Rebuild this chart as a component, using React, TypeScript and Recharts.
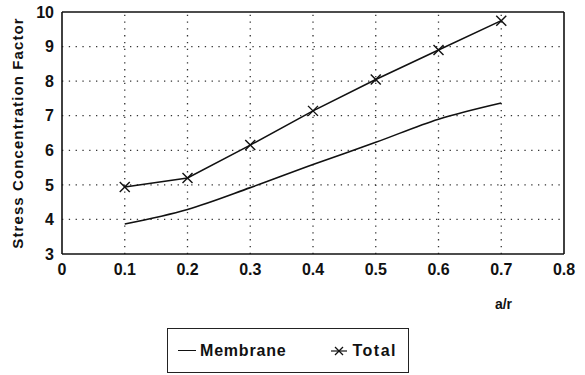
import React from "react";
import { LineChart, Line, XAxis, YAxis, ReferenceLine } from "recharts";

const ratios = [0.1, 0.2, 0.3, 0.4, 0.5, 0.6, 0.7];
const membrane = [3.87, 4.29, 4.92, 5.59, 6.23, 6.9, 7.37];
const total = [4.94, 5.2, 6.15, 7.14, 8.05, 8.9, 9.75];
const xTicks = [0, 0.1, 0.2, 0.3, 0.4, 0.5, 0.6, 0.7, 0.8];
const yTicks = [3, 4, 5, 6, 7, 8, 9, 10];
const xGrid = [0.1, 0.2, 0.3, 0.4, 0.5, 0.6, 0.7];
const yGrid = [4, 5, 6, 7, 8, 9];
const seriesNames = ["Membrane", "Total"];

const data = ratios.map((r, i) => ({ r, membrane: membrane[i], total: total[i] }));

const font = "'Liberation Sans', Arial, sans-serif";
const ink = "#111";

const Cross = (props: any) => {
    const { cx, cy } = props;
    if (cx == null || cy == null) return null;
    const s = 5;
    return (
        <g stroke={ink} strokeWidth={1.4}>
            <line x1={cx - s} y1={cy - s} x2={cx + s} y2={cy + s} />
            <line x1={cx - s} y1={cy + s} x2={cx + s} y2={cy - s} />
        </g>
    );
};

const tickStyle = { fill: ink, fontSize: 16, fontWeight: 700, fontFamily: font };

export default function App() {
    return (
        <div style={{ position: "absolute", left: 0, top: 0, width: 585, height: 375, background: "#fff", fontFamily: font }}>
            <LineChart width={585} height={375} data={data} margin={{ top: 12, right: 21, bottom: 66, left: 22 }}>
                {xGrid.map(v => (
                    <ReferenceLine key={"x" + v} x={v} stroke="#333" strokeWidth={1.3} strokeDasharray="1.3 5.5" />
                ))}
                {yGrid.map(v => (
                    <ReferenceLine key={"y" + v} y={v} stroke="#333" strokeWidth={1.3} strokeDasharray="1.3 5.5" />
                ))}
                <XAxis dataKey="r" type="number" domain={[0, 0.8]} ticks={xTicks} height={55}
                    tickLine={false} axisLine={{ stroke: ink, strokeWidth: 1.6 }}
                    tick={tickStyle} tickMargin={4}
                    label={{ value: "a/r", position: "insideBottomRight", offset: 0, dx: -52, fill: ink, fontSize: 14, fontWeight: 700, fontFamily: font }} />
                <YAxis type="number" domain={[3, 10]} ticks={yTicks} width={40} interval={0}
                    tickLine={false} axisLine={{ stroke: ink, strokeWidth: 1.6 }}
                    tick={tickStyle} tickMargin={2}
                    label={{ value: "Stress Concentration Factor", angle: -90, position: "insideLeft", offset: -4, fill: ink, fontSize: 15, fontWeight: 700, fontFamily: font, style: { textAnchor: "middle", letterSpacing: 1.1 } }} />
                <ReferenceLine x={0.8} stroke={ink} strokeWidth={1.6} />
                <ReferenceLine y={10} stroke={ink} strokeWidth={1.6} />
                <Line type="monotone" dataKey="membrane" name={seriesNames[0]} stroke={ink} strokeWidth={1.6} dot={false} isAnimationActive={false} />
                <Line type="linear" dataKey="total" name={seriesNames[1]} stroke={ink} strokeWidth={1.6} dot={<Cross />} isAnimationActive={false} />
            </LineChart>
            <div style={{ position: "absolute", left: 167, top: 328, width: 242, height: 45, border: "1px solid #222", boxSizing: "border-box", display: "flex", alignItems: "center", fontSize: 16, fontWeight: 700, color: ink, letterSpacing: 0.8 }}>
                <span style={{ marginLeft: 10, display: "inline-block", width: 18, borderTop: "1.5px solid #111", marginRight: 4 }} />
                <span>{seriesNames[0]}</span>
                <svg width={16} height={12} style={{ marginLeft: 45, marginRight: 5 }}>
                    <line x1={0} y1={6} x2={16} y2={6} stroke={ink} strokeWidth={1.2} />
                    <line x1={4} y1={2} x2={12} y2={10} stroke={ink} strokeWidth={1.2} />
                    <line x1={4} y1={10} x2={12} y2={2} stroke={ink} strokeWidth={1.2} />
                </svg>
                <span style={{ letterSpacing: 1.5 }}>{seriesNames[1]}</span>
            </div>
        </div>
    );
}
